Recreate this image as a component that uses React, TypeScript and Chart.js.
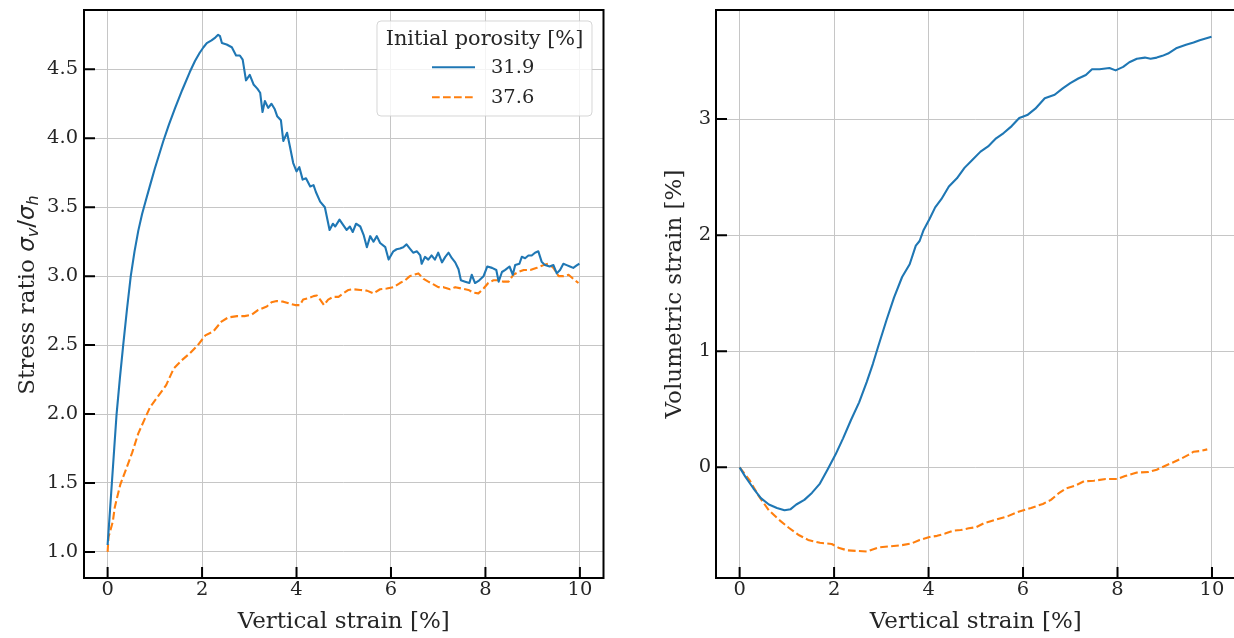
import { useEffect, useRef } from "react";
import { Chart, registerables } from "chart.js";

Chart.register(...registerables);

// ---------- data ----------
const seriesLabels = ["31.9", "37.6"];
const legendTitle = "Initial porosity [%]";
const xAxisTitle = "Vertical strain [%]";
const volAxisTitle = "Volumetric strain [%]";
const xTickValues = [0, 2, 4, 6, 8, 10];
const stressTickValues = [1.0, 1.5, 2.0, 2.5, 3.0, 3.5, 4.0, 4.5];
const volTickValues = [0, 1, 2, 3];

// Stress ratio, porosity 31.9
const stressX319 = [0, 0.05, 0.09, 0.14, 0.19, 0.26, 0.33, 0.41, 0.49, 0.57, 0.65, 0.73, 0.81, 0.9, 1.0, 1.09, 1.18, 1.3, 1.43, 1.58, 1.74, 1.85, 1.95, 2.03, 2.1, 2.2, 2.28, 2.34, 2.38, 2.42, 2.52, 2.63, 2.72, 2.8, 2.86, 2.93, 3.01, 3.09, 3.17, 3.23, 3.28, 3.33, 3.4, 3.47, 3.54, 3.59, 3.67, 3.72, 3.8, 3.86, 3.93, 4.0, 4.06, 4.13, 4.2, 4.29, 4.36, 4.41, 4.5, 4.6, 4.7, 4.77, 4.82, 4.91, 4.99, 5.06, 5.13, 5.19, 5.26, 5.35, 5.42, 5.49, 5.56, 5.63, 5.7, 5.77, 5.88, 5.95, 6.05, 6.12, 6.19, 6.26, 6.33, 6.4, 6.47, 6.55, 6.62, 6.65, 6.72, 6.79, 6.86, 6.93, 7.0, 7.08, 7.15, 7.22, 7.29, 7.36, 7.43, 7.48, 7.57, 7.66, 7.71, 7.78, 7.87, 7.96, 8.04, 8.14, 8.23, 8.28, 8.35, 8.42, 8.51, 8.58, 8.63, 8.72, 8.77, 8.84, 8.91, 8.98, 9.05, 9.12, 9.19, 9.26, 9.36, 9.44, 9.51, 9.58, 9.65, 9.72, 9.79, 9.86, 9.94, 9.99];
const stressY319 = [1.05, 1.3, 1.5, 1.75, 2.0, 2.26, 2.5, 2.76, 3.0, 3.18, 3.33, 3.45, 3.55, 3.66, 3.78, 3.88, 3.98, 4.1, 4.22, 4.35, 4.48, 4.56, 4.62, 4.66, 4.69, 4.71, 4.73, 4.75, 4.74, 4.69, 4.68, 4.66, 4.6, 4.6, 4.57, 4.42, 4.46, 4.39, 4.36, 4.33, 4.19, 4.27, 4.22, 4.25, 4.21, 4.16, 4.13, 3.98, 4.04, 3.94, 3.82, 3.76, 3.79, 3.7, 3.71, 3.65, 3.66, 3.61, 3.54, 3.5, 3.335, 3.38, 3.36, 3.41, 3.37, 3.335, 3.36, 3.32, 3.38, 3.36, 3.3, 3.21, 3.29, 3.25, 3.29, 3.24, 3.21, 3.12, 3.18, 3.195, 3.2, 3.21, 3.23, 3.2, 3.17, 3.18, 3.15, 3.09, 3.14, 3.12, 3.15, 3.12, 3.17, 3.1, 3.14, 3.17, 3.13, 3.1, 3.05, 2.97, 2.96, 2.95, 3.01, 2.95, 2.97, 3.0, 3.07, 3.06, 3.045, 2.96, 3.03, 3.045, 3.07, 3.01, 3.08, 3.09, 3.14, 3.13, 3.15, 3.15, 3.17, 3.18, 3.105, 3.08, 3.07, 3.08, 3.02, 3.045, 3.09, 3.08, 3.07, 3.06, 3.08, 3.09];

// Stress ratio, porosity 37.6
const stressX376 = [0, 0.02, 0.07, 0.11, 0.15, 0.19, 0.27, 0.38, 0.52, 0.65, 0.78, 0.9, 1.07, 1.24, 1.4, 1.57, 1.74, 1.91, 2.07, 2.24, 2.41, 2.55, 2.74, 2.9, 3.05, 3.19, 3.37, 3.47, 3.58, 3.72, 3.86, 3.97, 4.07, 4.14, 4.25, 4.36, 4.43, 4.5, 4.58, 4.67, 4.78, 4.89, 4.99, 5.1, 5.2, 5.35, 5.49, 5.63, 5.77, 5.91, 6.05, 6.19, 6.3, 6.4, 6.58, 6.69, 6.79, 6.9, 7.0, 7.11, 7.25, 7.36, 7.5, 7.64, 7.75, 7.85, 7.96, 8.06, 8.17, 8.28, 8.38, 8.49, 8.59, 8.7, 8.81, 8.95, 9.09, 9.23, 9.33, 9.44, 9.55, 9.65, 9.76, 9.86, 9.97];
const stressY376 = [1.0, 1.11, 1.17, 1.22, 1.32, 1.38, 1.49, 1.59, 1.72, 1.86, 1.96, 2.05, 2.13, 2.21, 2.33, 2.39, 2.44, 2.5, 2.57, 2.6, 2.67, 2.7, 2.71, 2.71, 2.72, 2.755, 2.78, 2.81, 2.82, 2.815, 2.8, 2.79, 2.79, 2.83, 2.84, 2.855, 2.86, 2.83, 2.79, 2.83, 2.85, 2.85, 2.875, 2.9, 2.905, 2.9, 2.895, 2.875, 2.905, 2.91, 2.92, 2.95, 2.97, 3.0, 3.02, 2.98, 2.96, 2.94, 2.92, 2.92, 2.905, 2.92, 2.91, 2.9, 2.88, 2.875, 2.91, 2.95, 2.97, 2.97, 2.96, 2.96, 3.01, 3.03, 3.045, 3.045, 3.06, 3.08, 3.09, 3.06, 3.0, 3.0, 3.01, 2.98, 2.95];

// Volumetric strain, porosity 31.9
const volX319 = [0, 0.12, 0.29, 0.45, 0.62, 0.79, 0.95, 1.08, 1.2, 1.37, 1.53, 1.7, 1.86, 2.03, 2.19, 2.36, 2.53, 2.69, 2.82, 2.94, 3.11, 3.27, 3.44, 3.6, 3.73, 3.81, 3.89, 4.02, 4.14, 4.27, 4.43, 4.6, 4.76, 4.93, 5.1, 5.26, 5.43, 5.59, 5.76, 5.92, 6.09, 6.26, 6.46, 6.67, 6.84, 7.0, 7.17, 7.33, 7.46, 7.62, 7.83, 7.96, 8.12, 8.25, 8.41, 8.58, 8.7, 8.83, 8.95, 9.07, 9.24, 9.45, 9.61, 9.74, 9.99];
const volY319 = [0, -0.08, -0.18, -0.265, -0.32, -0.35, -0.37, -0.36, -0.32, -0.28, -0.22, -0.14, -0.02, 0.11, 0.25, 0.41, 0.56, 0.735, 0.89, 1.05, 1.27, 1.465, 1.64, 1.75, 1.91, 1.95, 2.04, 2.14, 2.24, 2.31, 2.42, 2.49, 2.58, 2.65, 2.72, 2.765, 2.835, 2.88, 2.94, 3.01, 3.035, 3.09, 3.18, 3.21, 3.265, 3.31, 3.35, 3.38, 3.43, 3.43, 3.44, 3.42, 3.45, 3.49, 3.52, 3.53, 3.52, 3.53, 3.545, 3.565, 3.61, 3.64, 3.66, 3.68, 3.71];

// Volumetric strain, porosity 37.6
const volX376 = [0, 0.21, 0.41, 0.62, 0.83, 1.04, 1.24, 1.45, 1.7, 1.95, 2.11, 2.28, 2.49, 2.69, 2.94, 3.19, 3.44, 3.64, 3.81, 4.02, 4.18, 4.35, 4.52, 4.68, 4.85, 5.01, 5.18, 5.43, 5.68, 5.92, 6.17, 6.42, 6.59, 6.75, 6.92, 7.09, 7.29, 7.5, 7.75, 8.0, 8.16, 8.41, 8.66, 8.83, 8.99, 9.16, 9.32, 9.49, 9.61, 9.74, 9.9];
const volY376 = [0, -0.11, -0.25, -0.37, -0.45, -0.52, -0.58, -0.625, -0.65, -0.66, -0.695, -0.715, -0.72, -0.725, -0.69, -0.68, -0.67, -0.655, -0.625, -0.6, -0.59, -0.57, -0.545, -0.54, -0.525, -0.515, -0.48, -0.45, -0.42, -0.38, -0.35, -0.315, -0.28, -0.225, -0.18, -0.16, -0.12, -0.115, -0.1, -0.1, -0.075, -0.045, -0.04, -0.02, 0.01, 0.04, 0.07, 0.105, 0.135, 0.14, 0.155];

// ---------- styles ----------
const BLUE = "#1f77b4";
const ORANGE = "#ff7f0e";
const DASH = [7.7, 3.3];
const TEXT = "#262626";
const GRID = "#c6c6c6";
const FRAME = "#000000";
const SERIF = "'DejaVu Serif', serif";
const SANS = "'DejaVu Sans', sans-serif";
const TICK_SIZE = 19.44;
const LEGEND_TITLE_SIZE = 20.83;
const LABEL_SIZE = 23;

const pairs = (xs: number[], ys: number[]) => xs.map((x, i) => ({ x, y: ys[i] }));

type Series = { label: string; xs: number[]; ys: number[]; color: string; dash: number[] };

type Panel = {
  canvasWidth: number;
  areaLeft: number;
  areaRight: number;
  yMin: number;
  yMax: number;
  yTicks: number[];
  yDecimals: number;
  yLabelPad: number;
  series: Series[];
  legend: boolean;
  yTitle: string | null; // null => math title
  yTitlePad: number;
};

function drawMathTitle(ctx: CanvasRenderingContext2D, bx: number, cy: number) {
  const f = LABEL_SIZE;
  const parts = [
    { t: "Stress ratio ", font: `${f}px ${SERIF}`, dy: 0 },
    { t: "σ", font: `italic ${f}px ${SANS}`, dy: 0 },
    { t: "v", font: `italic ${f * 0.7}px ${SANS}`, dy: f * 0.2 },
    { t: "/", font: `${f}px ${SANS}`, dy: 0 },
    { t: "σ", font: `italic ${f}px ${SANS}`, dy: 0 },
    { t: "h", font: `italic ${f * 0.7}px ${SANS}`, dy: f * 0.2 },
  ];
  ctx.save();
  let total = 0;
  const widths = parts.map((p) => {
    ctx.font = p.font;
    const w = ctx.measureText(p.t).width;
    total += w;
    return w;
  });
  ctx.translate(bx, cy);
  ctx.rotate(-Math.PI / 2);
  ctx.fillStyle = TEXT;
  ctx.textBaseline = "alphabetic";
  ctx.textAlign = "left";
  let x = -total / 2;
  parts.forEach((p, i) => {
    ctx.font = p.font;
    ctx.fillText(p.t, x, p.dy);
    x += widths[i];
  });
  ctx.restore();
}

function roundRectPath(ctx: CanvasRenderingContext2D, x: number, y: number, w: number, h: number, r: number) {
  ctx.beginPath();
  ctx.moveTo(x + r, y);
  ctx.lineTo(x + w - r, y);
  ctx.arcTo(x + w, y, x + w, y + r, r);
  ctx.lineTo(x + w, y + h - r);
  ctx.arcTo(x + w, y + h, x + w - r, y + h, r);
  ctx.lineTo(x + r, y + h);
  ctx.arcTo(x, y + h, x, y + h - r, r);
  ctx.lineTo(x, y + r);
  ctx.arcTo(x, y, x + r, y, r);
  ctx.closePath();
}

function decorPlugin(panel: Panel) {
  return {
    id: "decor",
    afterDraw(chart: any) {
      const { ctx, chartArea: a, scales } = chart;
      ctx.save();
      // frame
      ctx.strokeStyle = FRAME;
      ctx.lineWidth = 2;
      ctx.setLineDash([]);
      ctx.strokeRect(a.left, a.top, a.right - a.left, a.bottom - a.top);
      // inward ticks
      ctx.beginPath();
      for (const t of scales.x.ticks) {
        const px = scales.x.getPixelForValue(t.value);
        ctx.moveTo(px, a.bottom);
        ctx.lineTo(px, a.bottom - 11);
      }
      for (const t of scales.y.ticks) {
        const py = scales.y.getPixelForValue(t.value);
        ctx.moveTo(a.left, py);
        ctx.lineTo(a.left + 11, py);
      }
      ctx.stroke();

      if (panel.yTitle === null) {
        drawMathTitle(ctx, 33.5, (a.top + a.bottom) / 2 + 1);
      }

      if (panel.legend) {
        const bw = 215;
        const bh = 95;
        const bx = a.right - 11.5 - bw;
        const by = a.top + 11;
        roundRectPath(ctx, bx, by, bw, bh, 4);
        ctx.fillStyle = "rgba(255,255,255,0.8)";
        ctx.fill();
        ctx.strokeStyle = "rgba(204,204,204,0.8)";
        ctx.lineWidth = 1;
        ctx.stroke();

        ctx.fillStyle = TEXT;
        ctx.font = `${LEGEND_TITLE_SIZE}px ${SERIF}`;
        ctx.textAlign = "center";
        ctx.textBaseline = "alphabetic";
        ctx.fillText(legendTitle, bx + bw / 2, by + 23.5);

        ctx.font = `${TICK_SIZE}px ${SERIF}`;
        panel.series.forEach((s, i) => {
          const ly = by + 46.3 + i * 30;
          ctx.strokeStyle = s.color;
          ctx.lineWidth = 2.1;
          ctx.setLineDash(s.dash);
          ctx.beginPath();
          ctx.moveTo(bx + 55, ly);
          ctx.lineTo(bx + 98, ly);
          ctx.stroke();
          ctx.setLineDash([]);
          ctx.fillStyle = TEXT;
          ctx.textAlign = "left";
          ctx.fillText(s.label, bx + 114, ly + 6);
        });
      }
      ctx.restore();
    },
  };
}

function buildConfig(panel: Panel): any {
  return {
    type: "line",
    data: {
      datasets: panel.series.map((s) => ({
        label: s.label,
        data: pairs(s.xs, s.ys),
        borderColor: s.color,
        backgroundColor: s.color,
        borderWidth: 2.1,
        borderDash: s.dash,
        borderJoinStyle: "round",
        pointRadius: 0,
        tension: 0,
        fill: false,
      })),
    },
    options: {
      responsive: false,
      maintainAspectRatio: false,
      animation: false,
      events: [],
      devicePixelRatio: 1,
      layout: {
        padding: { left: 0, top: 10, right: panel.canvasWidth - panel.areaRight, bottom: 0 },
      },
      plugins: { legend: { display: false }, tooltip: { enabled: false } },
      scales: {
        x: {
          type: "linear",
          min: -0.5,
          max: 10.5,
          afterBuildTicks: (s: any) => {
            s.ticks = xTickValues.map((v) => ({ value: v }));
          },
          afterFit: (s: any) => {
            s.height = 60;
            s.paddingLeft = 0;
            s.paddingRight = 0;
          },
          grid: { color: GRID, lineWidth: 1, drawTicks: false },
          border: { display: false },
          ticks: {
            autoSkip: false,
            maxRotation: 0,
            padding: 0,
            color: TEXT,
            font: { family: SERIF, size: TICK_SIZE },
            callback: (v: any) => String(v),
          },
          title: {
            display: true,
            text: xAxisTitle,
            color: TEXT,
            font: { family: SERIF, size: LABEL_SIZE },
            padding: { top: 0, bottom: 2 },
          },
        },
        y: {
          type: "linear",
          min: panel.yMin,
          max: panel.yMax,
          afterBuildTicks: (s: any) => {
            s.ticks = panel.yTicks.map((v) => ({ value: v }));
          },
          afterFit: (s: any) => {
            s.width = panel.areaLeft;
            s.paddingTop = 0;
            s.paddingBottom = 0;
          },
          grid: { color: GRID, lineWidth: 1, drawTicks: false },
          border: { display: false },
          ticks: {
            autoSkip: false,
            padding: panel.yLabelPad,
            color: TEXT,
            font: { family: SERIF, size: TICK_SIZE },
            callback: (v: any) => Number(v).toFixed(panel.yDecimals),
          },
          title: {
            display: panel.yTitle !== null,
            text: panel.yTitle ?? "",
            color: TEXT,
            font: { family: SERIF, size: LABEL_SIZE },
            padding: { top: panel.yTitlePad, bottom: 0 },
          },
        },
      },
    },
    plugins: [decorPlugin(panel)],
  };
}

const seriesStress: Series[] = [
  { label: seriesLabels[0], xs: stressX319, ys: stressY319, color: BLUE, dash: [] },
  { label: seriesLabels[1], xs: stressX376, ys: stressY376, color: ORANGE, dash: DASH },
];
const seriesVol: Series[] = [
  { label: seriesLabels[0], xs: volX319, ys: volY319, color: BLUE, dash: [] },
  { label: seriesLabels[1], xs: volX376, ys: volY376, color: ORANGE, dash: DASH },
];

const leftPanel: Panel = {
  canvasWidth: 620,
  areaLeft: 84,
  areaRight: 603.5,
  yMin: 0.811,
  yMax: 4.93,
  yTicks: stressTickValues,
  yDecimals: 1,
  yLabelPad: 6,
  series: seriesStress,
  legend: true,
  yTitle: null,
  yTitlePad: 0,
};

const rightPanel: Panel = {
  canvasWidth: 640,
  areaLeft: 96,
  areaRight: 615.6,
  yMin: -0.953,
  yMax: 3.94,
  yTicks: volTickValues,
  yDecimals: 0,
  yLabelPad: 5,
  series: seriesVol,
  legend: false,
  yTitle: volAxisTitle,
  yTitlePad: 41.7,
};

export default function App() {
  const leftRef = useRef<HTMLCanvasElement>(null);
  const rightRef = useRef<HTMLCanvasElement>(null);

  useEffect(() => {
    const c1 = new Chart(leftRef.current as HTMLCanvasElement, buildConfig(leftPanel));
    const c2 = new Chart(rightRef.current as HTMLCanvasElement, buildConfig(rightPanel));
    return () => {
      c1.destroy();
      c2.destroy();
    };
  }, []);

  return (
    <div
      style={{
        position: "fixed",
        left: 0,
        top: 0,
        width: 1234,
        height: 638,
        overflow: "hidden",
        background: "#ffffff",
      }}
    >
      <canvas
        ref={leftRef}
        width={620}
        height={638}
        style={{ position: "absolute", left: 0, top: 0, width: 620, height: 638 }}
      />
      <canvas
        ref={rightRef}
        width={640}
        height={638}
        style={{ position: "absolute", left: 620, top: 0, width: 640, height: 638 }}
      />
    </div>
  );
}
